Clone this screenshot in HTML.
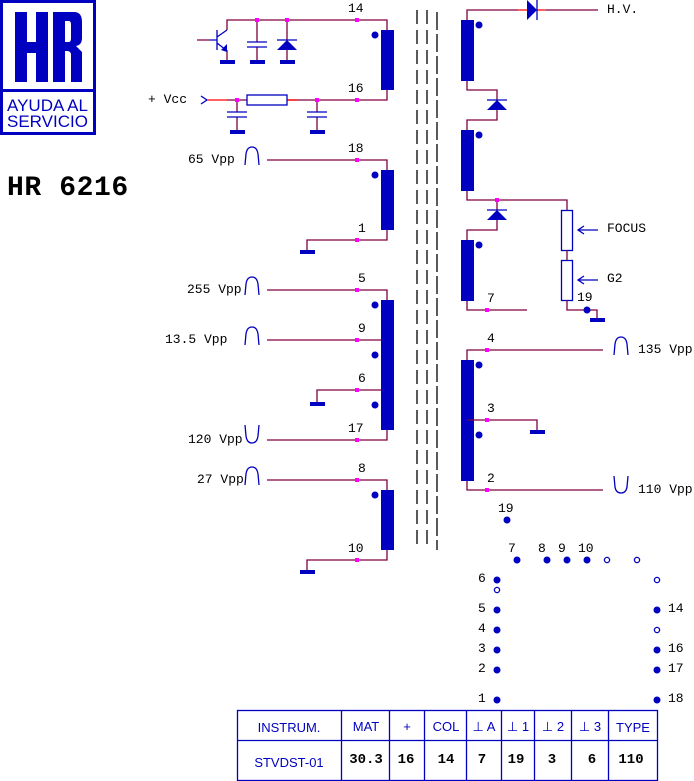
<!DOCTYPE html>
<html><head><meta charset="utf-8"><style>
body{margin:0;background:#fff;width:694px;height:781px;overflow:hidden}
svg{display:block}
text{font-family:"Liberation Mono",monospace;font-size:13px;fill:#000}
.w{stroke:#800040;stroke-width:1.3;fill:none}
.r{stroke:#ff0000;stroke-width:1.3;fill:none}
.b{stroke:#0000c0;stroke-width:1.3;fill:none}
.f{fill:#0000c0}
.m{fill:#ff00ff}
.s{font-family:"Liberation Sans",sans-serif;fill:#0000c0;font-size:13px}
.bd{font-weight:bold;font-size:14px}
</style></head><body>
<svg width="694" height="781" viewBox="0 0 694 781">
<!-- logo -->
<rect x="1.5" y="1.5" width="93" height="132" fill="none" stroke="#0000c0" stroke-width="3"/>
<rect x="1" y="89" width="95" height="3" class="f"/>
<rect x="15" y="12" width="12" height="70" class="f"/><rect x="36" y="12" width="12" height="70" class="f"/><rect x="15" y="42" width="33" height="11" class="f"/>
<path d="M53 12 H74 Q82 12 82 22 V38 Q82 45 76 46 L82 52 V82 H71 V55 Q71 51 67 51 H65 V82 H53 Z M65 21 V42 H69 Q71 42 71 38 V25 Q71 21 69 21 Z" class="f" fill-rule="evenodd"/>
<text x="7" y="111" class="s" style="font-size:17px">AYUDA AL</text>
<text x="7" y="127" class="s" style="font-size:17px">SERVICIO</text>
<text x="7" y="195" style="font-size:28px;font-weight:bold;letter-spacing:0.6px">HR 6216</text>

<!-- core -->
<g stroke="#000" stroke-width="1.3" stroke-dasharray="14,6">
<line x1="417" y1="10" x2="417" y2="550"/><line x1="427" y1="10" x2="427" y2="550"/><line x1="437" y1="12" x2="437" y2="550" stroke-dasharray="18,4"/></g>

<!-- primary top -->
<path class="w" d="M227 30 V20 H387 V30 M387 90 V100 H287"/>
<path class="w" d="M197 40 H210 M227 50 V60 M257 20 V42 M257 47 V60 M287 20 V40 M287 50 V60"/>
<path class="b" d="M210 40 H217 M217 30 V50 M217 37 L227 30 M217 43 L226 50 M247 42 H267 M247 47 H267 M277 40 H297"/>
<path class="f" d="M221 50 L227 44 L227 52 Z M287 40 L297 50 L277 50 Z"/>
<rect x="220" y="60" width="15" height="4" class="f"/><rect x="250" y="60" width="15" height="4" class="f"/><rect x="280" y="60" width="15" height="4" class="f"/>
<text x="148" y="103">+ Vcc</text>
<path class="b" d="M201 96 L207 100 L201 104"/>
<path class="r" d="M207 100 H227"/><path class="w" d="M227 100 H247 M237 100 V112 M237 117 V130 M317 100 V112 M317 117 V130"/>
<path class="r" d="M287 100 H297"/>
<rect x="247" y="95" width="40" height="10" class="b"/>
<path class="b" d="M227 112 H247 M227 117 H247 M307 112 H327 M307 117 H327"/>
<rect x="230" y="130" width="15" height="4" class="f"/><rect x="310" y="130" width="15" height="4" class="f"/>
<rect x="381" y="30" width="13" height="60" class="f"/><circle cx="375" cy="35" r="3.5" class="f"/>
<text x="348" y="12">14</text><text x="348" y="92">16</text>

<!-- coil 2 -->
<path class="w" d="M267 160 H387 V170 M387 230 V240 H307 V250"/>
<rect x="381" y="170" width="13" height="60" class="f"/><circle cx="375" cy="175" r="3.5" class="f"/>
<rect x="300" y="250" width="15" height="4" class="f"/>
<text x="348" y="152">18</text><text x="358" y="232">1</text>
<text x="188" y="163">65 Vpp</text>

<!-- coil 3 -->
<path class="w" d="M267 290 H387 V300 M267 340 H388 M388 390 H317 V402 M387 430 V440 H267"/>
<rect x="381" y="300" width="13" height="130" class="f"/>
<circle cx="375" cy="305" r="3.5" class="f"/><circle cx="375" cy="355" r="3.5" class="f"/><circle cx="375" cy="405" r="3.5" class="f"/>
<rect x="310" y="402" width="15" height="4" class="f"/>
<text x="358" y="282">5</text><text x="358" y="332">9</text><text x="358" y="382">6</text><text x="348" y="432">17</text>
<text x="187" y="293">255 Vpp</text><text x="165" y="343">13.5 Vpp</text><text x="188" y="443">120 Vpp</text>

<!-- coil 4 -->
<path class="w" d="M267 480 H387 V490 M387 550 V560 H307 V570"/>
<rect x="381" y="490" width="13" height="60" class="f"/><circle cx="375" cy="495" r="3.5" class="f"/>
<rect x="300" y="570" width="15" height="4" class="f"/>
<text x="358" y="472">8</text><text x="348" y="552">10</text><text x="197" y="483">27 Vpp</text>

<!-- pulses -->
<g class="b">
<path d="M245 165 L246 154 Q247 147 252 147 Q257 147 258 154 L259 165"/>
<path d="M245 295 L246 284 Q247 277 252 277 Q257 277 258 284 L259 295"/>
<path d="M245 345 L246 334 Q247 327 252 327 Q257 327 258 334 L259 345"/>
<path d="M245 425 L246 436 Q247 443 252 443 Q257 443 258 436 L259 425"/>
<path d="M245 485 L246 474 Q247 467 252 467 Q257 467 258 474 L259 485"/>
<path d="M614 355 L615 344 Q616 337 621 337 Q626 337 627 344 L628 355"/>
<path d="M614 476 L615 487 Q616 493 621 493 Q626 493 627 487 L628 476"/>
</g>

<!-- secondary -->
<path class="w" d="M467 20 V10 H518 M546 10 H598"/>
<path class="r" d="M518 10 H527 M537 10 H546"/>
<path class="f" d="M527 0 L537 10 L527 20 Z"/><path class="b" d="M537 0 V20"/>
<text x="607" y="13">H.V.</text>
<rect x="461" y="20" width="13" height="61" class="f"/><circle cx="479" cy="25" r="3.5" class="f"/>
<path class="w" d="M467 81 V90 H497 V100 M497 110 V120 H467 V130"/>
<path class="b" d="M487 100 H507"/><path class="f" d="M497 100 L507 110 L487 110 Z"/>
<rect x="461" y="130" width="13" height="61" class="f"/><circle cx="479" cy="135" r="3.5" class="f"/>
<path class="w" d="M467 191 V200 H567 V210 M497 200 V210 M497 220 V230 H467 V240"/>
<path class="b" d="M487 210 H507"/><path class="f" d="M497 210 L507 220 L487 220 Z"/>
<rect x="461" y="240" width="13" height="61" class="f"/><circle cx="479" cy="245" r="3.5" class="f"/>
<path class="w" d="M467 301 V310 H527"/>
<text x="487" y="302">7</text>
<rect x="561.5" y="210.5" width="11" height="40" class="b"/>
<rect x="561.5" y="260.5" width="11" height="40" class="b"/>
<path class="w" d="M567 250 V260 M567 300 V310 H597 V318"/>
<rect x="590" y="318" width="15" height="4" class="f"/>
<circle cx="587" cy="310" r="3.5" class="f"/>
<text x="577" y="301">19</text>
<path class="b" d="M578 230 H598 M584 226 L578 230 L584 234 M578 280 H598 M584 276 L578 280 L584 284"/>
<text x="607" y="232">FOCUS</text><text x="607" y="282">G2</text>

<rect x="461" y="360" width="13" height="121" class="f"/>
<circle cx="479" cy="365" r="3.5" class="f"/><circle cx="479" cy="435" r="3.5" class="f"/>
<path class="w" d="M467 360 V350 H603 M467 420 H537 V430 M467 481 V490 H603"/>
<rect x="530" y="430" width="15" height="4" class="f"/>
<text x="487" y="342">4</text><text x="487" y="412">3</text><text x="487" y="482">2</text>
<text x="638" y="353">135 Vpp</text><text x="638" y="493">110 Vpp</text>

<!-- magenta junction dots -->
<g class="m">
<rect x="255" y="18" width="4" height="4"/><rect x="285" y="18" width="4" height="4"/><rect x="355" y="18" width="4" height="4"/>
<rect x="235" y="98" width="4" height="4"/><rect x="315" y="98" width="4" height="4"/><rect x="355" y="98" width="4" height="4"/>
<rect x="355" y="158" width="4" height="4"/><rect x="355" y="238" width="4" height="4"/>
<rect x="355" y="288" width="4" height="4"/><rect x="355" y="338" width="4" height="4"/><rect x="355" y="388" width="4" height="4"/><rect x="355" y="438" width="4" height="4"/>
<rect x="355" y="478" width="4" height="4"/><rect x="355" y="558" width="4" height="4"/>
<rect x="495" y="198" width="4" height="4"/><rect x="485" y="308" width="4" height="4"/>
<rect x="485" y="348" width="4" height="4"/><rect x="485" y="418" width="4" height="4"/><rect x="485" y="488" width="4" height="4"/>
</g>

<!-- pinout -->
<g class="f">
<circle cx="507" cy="520" r="3.5"/>
<circle cx="517" cy="560" r="3.5"/><circle cx="547" cy="560" r="3.5"/><circle cx="567" cy="560" r="3.5"/><circle cx="587" cy="560" r="3.5"/>
<circle cx="497" cy="580" r="3.5"/><circle cx="497" cy="610" r="3.5"/><circle cx="497" cy="630" r="3.5"/><circle cx="497" cy="650" r="3.5"/><circle cx="497" cy="670" r="3.5"/><circle cx="497" cy="700" r="3.5"/>
<circle cx="657" cy="610" r="3.5"/><circle cx="657" cy="650" r="3.5"/><circle cx="657" cy="670" r="3.5"/><circle cx="657" cy="700" r="3.5"/>
</g>
<g class="b" stroke-width="1"><circle cx="607" cy="560" r="2.6"/><circle cx="637" cy="560" r="2.6"/><circle cx="497" cy="590" r="2.6"/><circle cx="657" cy="580" r="2.6"/><circle cx="657" cy="630" r="2.6"/></g>
<text x="498" y="512">19</text>
<text x="508" y="552">7</text><text x="538" y="552">8</text><text x="558" y="552">9</text><text x="578" y="552">10</text>
<text x="478" y="582">6</text><text x="478" y="612">5</text><text x="478" y="632">4</text><text x="478" y="652">3</text><text x="478" y="672">2</text><text x="478" y="702">1</text>
<text x="668" y="612">14</text><text x="668" y="652">16</text><text x="668" y="672">17</text><text x="668" y="702">18</text>

<!-- table -->
<g stroke="#0000c0" stroke-width="1.3" fill="none">
<rect x="237.5" y="710.5" width="420" height="70"/>
<line x1="237" y1="740.5" x2="658" y2="740.5"/>
<line x1="341.5" y1="710" x2="341.5" y2="781"/><line x1="389.5" y1="710" x2="389.5" y2="781"/><line x1="424.5" y1="710" x2="424.5" y2="781"/><line x1="466.5" y1="710" x2="466.5" y2="781"/><line x1="501.5" y1="710" x2="501.5" y2="781"/><line x1="534.5" y1="710" x2="534.5" y2="781"/><line x1="571.5" y1="710" x2="571.5" y2="781"/><line x1="608.5" y1="710" x2="608.5" y2="781"/>
</g>
<text x="289" y="732" class="s" text-anchor="middle">INSTRUM.</text>
<text x="366" y="731" class="s" text-anchor="middle">MAT</text>
<text x="407" y="731" class="s" text-anchor="middle">+</text>
<text x="446" y="731" class="s" text-anchor="middle">COL</text>
<text x="484" y="731" class="s" text-anchor="middle">⊥ A</text>
<text x="518" y="731" class="s" text-anchor="middle">⊥ 1</text>
<text x="553" y="731" class="s" text-anchor="middle">⊥ 2</text>
<text x="590" y="731" class="s" text-anchor="middle">⊥ 3</text>
<text x="633" y="732" class="s" text-anchor="middle">TYPE</text>
<text x="289" y="767" class="s" text-anchor="middle">STVDST-01</text>
<text x="366" y="763" class="bd" text-anchor="middle">30.3</text>
<text x="406" y="763" class="bd" text-anchor="middle">16</text>
<text x="446" y="763" class="bd" text-anchor="middle">14</text>
<text x="482" y="763" class="bd" text-anchor="middle">7</text>
<text x="516" y="763" class="bd" text-anchor="middle">19</text>
<text x="552" y="763" class="bd" text-anchor="middle">3</text>
<text x="592" y="763" class="bd" text-anchor="middle">6</text>
<text x="631" y="763" class="bd" text-anchor="middle">110</text>
</svg>
</body></html>
